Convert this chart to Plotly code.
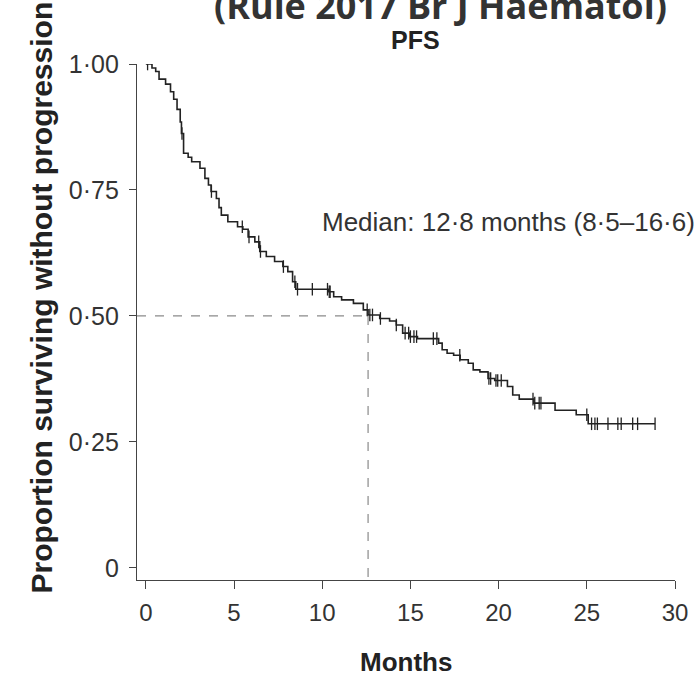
import plotly.graph_objects as go
import numpy as np

# Kaplan-Meier step curve (time in months, proportion surviving without progression)
step_times = [0, 0.35, 0.56, 0.75, 1.12, 1.4, 1.58, 1.77, 1.95, 2.02, 2.14, 2.4, 2.6, 3.07, 3.35,
              3.55, 3.7, 4.0, 4.15, 4.28, 4.65, 5.2, 5.5, 5.8, 6.18, 6.46, 6.83, 7.3, 7.77, 8.05,
              8.32, 8.5, 10.37, 10.65, 11.1, 11.77, 12.33, 12.6, 13.26, 13.82, 14.2, 14.56, 14.93,
              15.4, 16.6, 16.8, 17.08, 17.45, 17.82, 18.28, 18.56, 18.94, 19.4, 19.78, 20.5, 20.8,
              21.17, 22.0, 23.2, 24.4, 25.08]
step_surv = [1.0, 0.992, 0.985, 0.97, 0.96, 0.945, 0.93, 0.91, 0.885, 0.862, 0.823, 0.815, 0.806,
             0.793, 0.773, 0.76, 0.747, 0.733, 0.715, 0.70, 0.687, 0.677, 0.672, 0.657, 0.647,
             0.628, 0.618, 0.608, 0.598, 0.588, 0.568, 0.553, 0.548, 0.538, 0.532, 0.525, 0.512,
             0.502, 0.495, 0.490, 0.482, 0.466, 0.459, 0.455, 0.446, 0.433, 0.426, 0.422, 0.413,
             0.406, 0.393, 0.389, 0.376, 0.372, 0.360, 0.343, 0.335, 0.327, 0.313, 0.304, 0.286]
last_followup = 28.87

censor_times = [0.1, 2.05, 3.72, 5.47, 5.85, 6.4, 6.5, 7.8, 8.45, 8.6, 9.44, 10.3, 10.4, 10.45,
                12.55, 12.7, 12.85, 13.3, 14.2, 14.7, 14.9, 15.0, 15.2, 15.35, 16.3, 16.5, 17.8,
                19.45, 19.55, 19.85, 19.95, 20.15, 21.95, 22.05, 22.3, 22.4, 25.0, 25.27, 25.46,
                25.6, 26.2, 26.76, 26.95, 27.6, 27.88, 28.87]

median_time = 12.6
median_surv = 0.5

x_ticks = [0, 5, 10, 15, 20, 25, 30]
x_ticklabels = ["0", "5", "10", "15", "20", "25", "30"]
y_ticks = [0, 0.25, 0.5, 0.75, 1.0]
y_ticklabels = ["0", "0·25", "0·50", "0·75", "1·00"]

x_range = [-0.5, 30]
y_range = [-0.024, 1.0]

def surv_at(t):
    idx = np.searchsorted(step_times, t, side="right") - 1
    return step_surv[max(idx, 0)]

curve_x = list(step_times) + [last_followup]
curve_y = list(step_surv) + [step_surv[-1]]
censor_y = [surv_at(t) for t in censor_times]

FONT = "Liberation Sans, Arial, sans-serif"
ink = "#222222"

fig = go.Figure()
# median reference lines
fig.add_trace(go.Scatter(x=[x_range[0], median_time], y=[median_surv, median_surv], mode="lines",
                         line=dict(color="#8a8a8a", width=1.2, dash="dash"), hoverinfo="skip"))
fig.add_trace(go.Scatter(x=[median_time, median_time], y=[median_surv, y_range[0]], mode="lines",
                         line=dict(color="#8a8a8a", width=1.2, dash="dash"), hoverinfo="skip"))
# KM curve
fig.add_trace(go.Scatter(x=curve_x, y=curve_y, mode="lines", line=dict(color=ink, width=1.6, shape="hv")))
# censor marks
fig.add_trace(go.Scatter(x=censor_times, y=censor_y, mode="markers",
                         marker=dict(symbol="line-ns", size=9, line=dict(color=ink, width=1.3))))

fig.update_layout(
    width=700, height=674,
    margin=dict(l=137, r=17, t=64, b=94),
    paper_bgcolor="white", plot_bgcolor="white",
    showlegend=False,
    font=dict(family=FONT, size=24, color="#333333"),
    annotations=[
        dict(text="<b>(Rule 2017 Br J Haematol)</b>", xref="paper", yref="paper", x=0.564, y=1.114,
             xanchor="center", yanchor="middle", showarrow=False,
             font=dict(family="Open Sans, sans-serif", size=36, color="#333333")),
        dict(text="<b>PFS</b>", xref="paper", yref="paper", x=0.517, y=1.047,
             xanchor="center", yanchor="middle", showarrow=False,
             font=dict(family=FONT, size=25, color="#222222")),
        dict(text="Median: 12·8 months (8·5–16·6)", xref="paper", yref="y", x=1.040, y=0.686,
             xanchor="right", yanchor="middle", showarrow=False,
             font=dict(family=FONT, size=26, color="#333333")),
        dict(text="<b>Months</b>", xref="paper", yref="paper", x=0.5, y=-0.159,
             xanchor="center", yanchor="middle", showarrow=False,
             font=dict(family=FONT, size=26, color="#222222")),
        dict(text="<b>Proportion surviving without progression</b>", xref="paper", yref="paper",
             x=-0.178, y=0.548, xanchor="center", yanchor="middle", textangle=-90, showarrow=False,
             font=dict(family=FONT, size=30, color="#222222")),
    ],
)
fig.update_xaxes(range=x_range, tickvals=x_ticks, ticktext=x_ticklabels, showgrid=False, zeroline=False,
                 showline=True, linecolor="#444444", linewidth=1.3, ticks="outside", ticklen=8,
                 tickwidth=1.3, tickcolor="#444444", ticklabelstandoff=3,
                 tickfont=dict(family=FONT, size=24, color="#333333"))
fig.update_yaxes(range=y_range, tickvals=y_ticks, ticktext=y_ticklabels, showgrid=False, zeroline=False,
                 showline=True, linecolor="#444444", linewidth=1.3, ticks="outside", ticklen=7,
                 tickwidth=1.3, tickcolor="#444444", ticklabelstandoff=5,
                 tickfont=dict(family=FONT, size=25, color="#333333"))

fig.write_html("out.html", config={"displayModeBar": False},
               post_script="document.body.style.margin='0';")
